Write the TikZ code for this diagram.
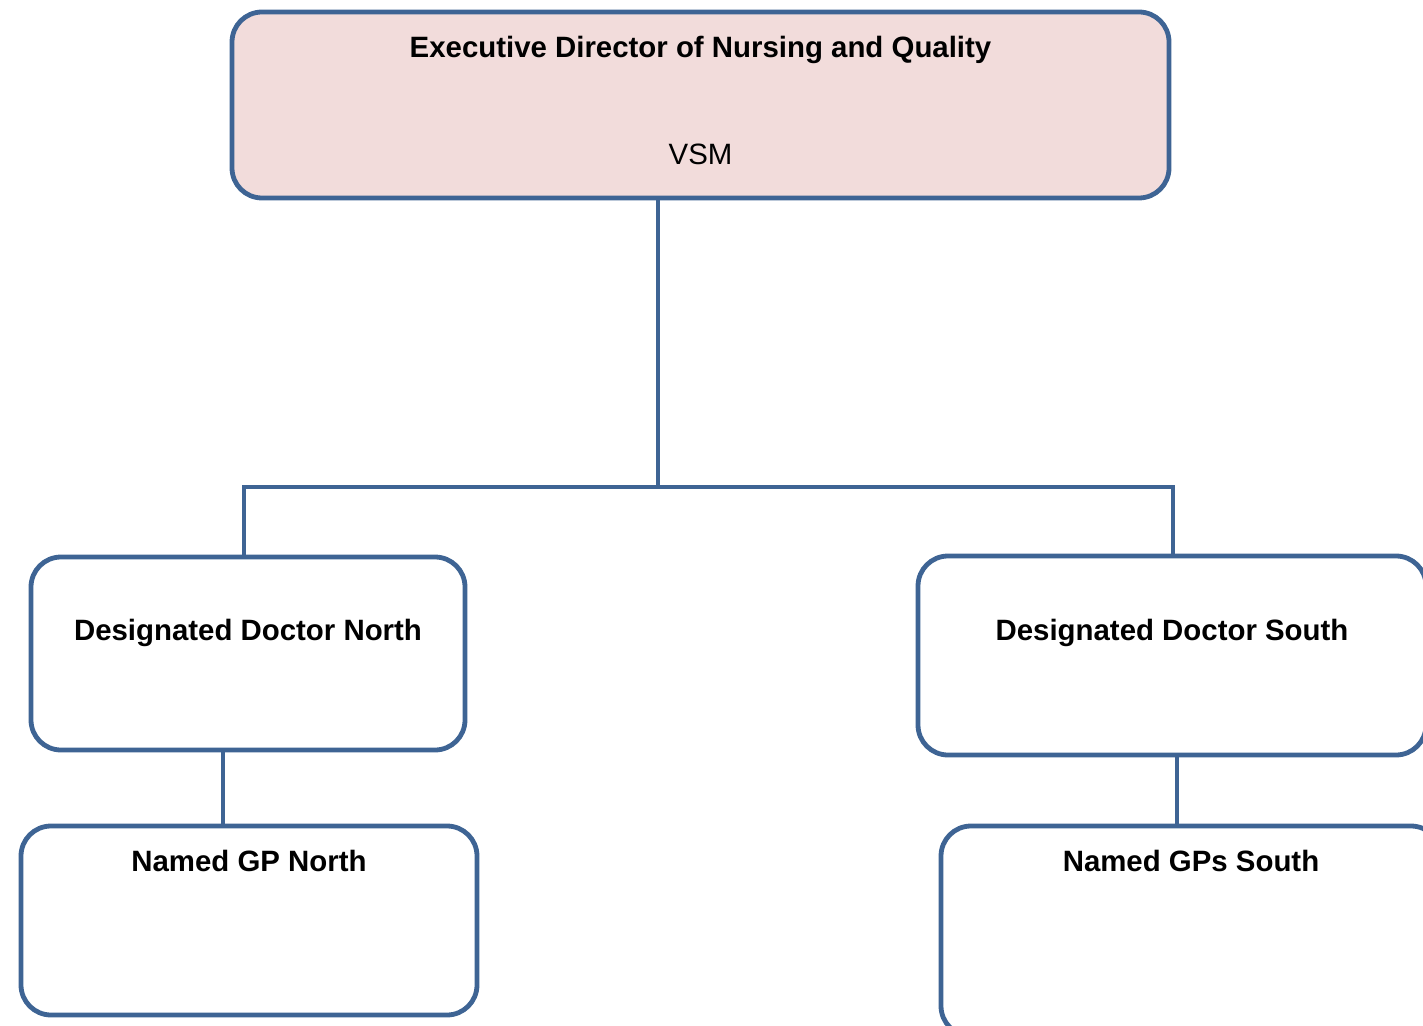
\documentclass[tikz,border=0pt]{standalone}
\usepackage{fontspec}
\setmainfont{Liberation Sans}
\usetikzlibrary{positioning}

\definecolor{boxline}{RGB}{62,100,148}
\definecolor{execfill}{RGB}{242,220,219}

\tikzset{
  orgbox/.style={draw=boxline, line width=2.4pt, rounded corners=15pt, fill=white, inner sep=0pt},
  link/.style={draw=boxline, line width=2.4pt},
  boxtitle/.style={font=\bfseries\fontsize{14.7}{17}\selectfont, inner sep=0pt, anchor=base},
  boxtext/.style={font=\fontsize{14.7}{17}\selectfont, inner sep=0pt, anchor=base}
}

\begin{document}
\begin{tikzpicture}[x=0.5pt,y=-0.5pt]
    \useasboundingbox (0,0) rectangle (1423,1026);
    \clip (0,0) rectangle (1423,1026);

    % Boxes
    \node[orgbox, fill=execfill, minimum width=468.5pt, minimum height=93pt] (exec) at (700.5,105) {};
    \node[orgbox, minimum width=217pt, minimum height=96.5pt] (ddn) at (248,653.5) {};
    \node[orgbox, minimum width=254pt, minimum height=99.5pt] (dds) at (1172,655.5) {};
    \node[orgbox, minimum width=228pt, minimum height=94.5pt] (ngn) at (249,920.5) {};
    \node[orgbox, minimum width=250pt, minimum height=105pt] (ngs) at (1191,931) {};

    % Labels
    \node[boxtitle] (exectitle) at ([yshift=-24pt]exec.north) {Executive Director of Nursing and Quality};
    \node[boxtext] (execsub) at ([yshift=-77.5pt]exec.north) {VSM};
    \node[boxtitle] (ddntitle) at ([yshift=-43pt]ddn.north) {Designated Doctor North};
    \node[boxtitle] (ddstitle) at ([yshift=-43.5pt]dds.north) {Designated Doctor South};
    \node[boxtitle] (ngntitle) at ([yshift=-24pt]ngn.north) {Named GP North};
    \node[boxtitle] (ngstitle) at ([yshift=-24pt]ngs.north) {Named GPs South};

    % Connectors
    \coordinate (tapM) at (658,487);
    \coordinate (tapL) at (244,487);
    \coordinate (tapR) at (1173,487);
    \coordinate (linkN) at (223,0);
    \coordinate (linkS) at (1177,0);
    \draw[link] (tapM |- exec.south) -- (tapM);
    \draw[link] (tapL |- ddn.north) -- (tapL) -- (tapR) -- (tapR |- dds.north);
    \draw[link] (linkN |- ddn.south) -- (linkN |- ngn.north);
    \draw[link] (linkS |- dds.south) -- (linkS |- ngs.north);
\end{tikzpicture}
\end{document}
